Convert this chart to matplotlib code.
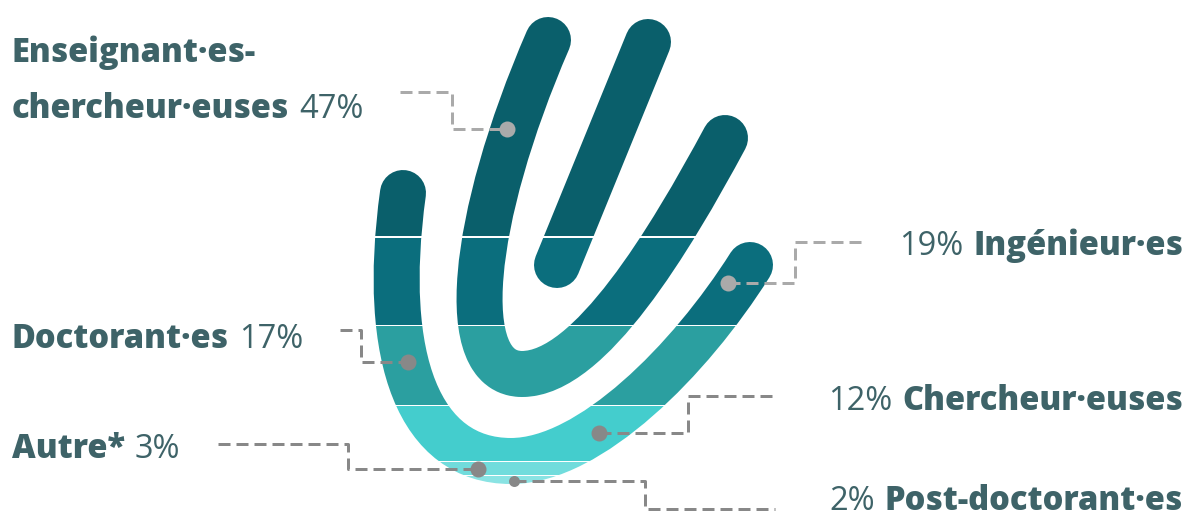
import matplotlib
matplotlib.use("Agg")
import matplotlib.pyplot as plt
from matplotlib.path import Path
from matplotlib.patches import PathPatch, Rectangle
import numpy as np

# ---------------- data ----------------
categories = ["Enseignant·es-\nchercheur·euses", "Ingénieur·es", "Doctorant·es",
              "Chercheur·euses", "Autre*", "Post-doctorant·es"]
values = [47, 19, 17, 12, 3, 2]
band_colors = ["#0a5f6b", "#0b6e7d", "#2b9fa0", "#44cdcd", "#71dcdc", "#8ae3e3"]

# ---------------- figure ----------------
W, H, DPI = 1190, 520, 100
fig = plt.figure(figsize=(W / DPI, H / DPI), dpi=DPI)
ax = fig.add_axes([0, 0, 1, 1])
ax.set_xlim(0, W)
ax.set_ylim(H, 0)
ax.axis("off")
plt.rcParams["lines.scale_dashes"] = False

PX = 72.0 / DPI  # points per pixel
TXT = "#3e6368"

# hand strokes (centre lines, pixel coordinates)
M, C, L = Path.MOVETO, Path.CURVE4, Path.LINETO
strokes = [
    Path([(403, 193), (380, 360), (420, 461), (511, 461),
          (590, 461), (690, 360), (750, 265)], [M, C, C, C, C, C, C]),
    Path([(548, 40), (470, 220), (455, 374), (522, 374),
          (590, 374), (670, 240), (725, 138)], [M, C, C, C, C, C, C]),
    Path([(648, 42), (557, 265)], [M, L]),
]
stroke_w = 46  # px

y_top, y_bot = 17, 485
fr = np.concatenate([[0], np.cumsum(values)]) / np.sum(values)
edges = y_top + fr * (y_bot - y_top)

n = len(band_colors)
for i, col in enumerate(band_colors):
    top = edges[i] - 30 if i == 0 else edges[i] + 0.6
    bot = edges[i + 1] + 30 if i == n - 1 else edges[i + 1] - 0.6
    clip = Rectangle((0, top), W, bot - top,
                     transform=ax.transData, facecolor="none", edgecolor="none")
    ax.add_patch(clip)
    for p in strokes:
        pp = PathPatch(p, facecolor="none", edgecolor=col, lw=stroke_w * PX,
                       capstyle="round", joinstyle="round")
        ax.add_patch(pp)
        pp.set_clip_path(clip)

# ---------------- leader lines ----------------
light, dark = "#aaaaaa", "#888888"
# (xs, ys, colour, dot size px, index of the point carrying the dot)
leaders = [
    ([400, 452, 452, 507], [92, 92, 129, 129], light, 16, -1),
    ([728, 795, 795, 862], [283, 283, 242, 242], light, 16, 0),
    ([340, 361, 361, 408], [330, 330, 362, 362], dark, 16, -1),
    ([599, 688, 688, 777], [433, 433, 396, 396], dark, 16, 0),
    ([218, 348, 348, 478], [444, 444, 469, 469], dark, 16, -1),
    ([514, 645, 645, 775], [481, 481, 509, 509], dark, 11, 0),
]
for xs, ys, col, ms, k in leaders:
    ax.plot(xs, ys, color=col, lw=3 * PX, dashes=(12 * PX, 6 * PX),
            solid_capstyle="butt", dash_capstyle="butt", zorder=5)
    ax.plot([xs[k]], [ys[k]], "o", color=col, ms=ms * PX, mec="none", zorder=6)

# ---------------- labels ----------------
FS = 23.5
BOLD = dict(family="Open Sans", weight="heavy", fontsize=FS, color=TXT)
REG = dict(family="Open Sans", weight="normal", fontsize=FS, color=TXT)
GAP = 7


def left_label(x, y, bold, reg):
    t = ax.text(x, y, bold, ha="left", va="baseline", **BOLD)
    ax.annotate(reg, xy=(1, 0), xycoords=t, xytext=(GAP, 0),
                textcoords="offset points", ha="left", va="bottom", **REG)


def right_label(x, y, reg, bold):
    t = ax.text(x, y, bold, ha="right", va="baseline", **BOLD)
    ax.annotate(reg, xy=(0, 0), xycoords=t, xytext=(-GAP, 0),
                textcoords="offset points", ha="right", va="bottom", **REG)


pct = [f"{v}%" for v in values]
first, second = categories[0].split("\n")
ax.text(12, 62, first, ha="left", va="baseline", **BOLD)
left_label(12, 118, second, pct[0])
right_label(1183, 255, pct[1], categories[1])
left_label(12, 348, categories[2], pct[2])
right_label(1183, 410, pct[3], categories[3])
left_label(12, 458, categories[4], pct[4])
right_label(1183, 510, pct[5], categories[5])

fig.savefig("out.png", dpi=DPI, facecolor="white")
